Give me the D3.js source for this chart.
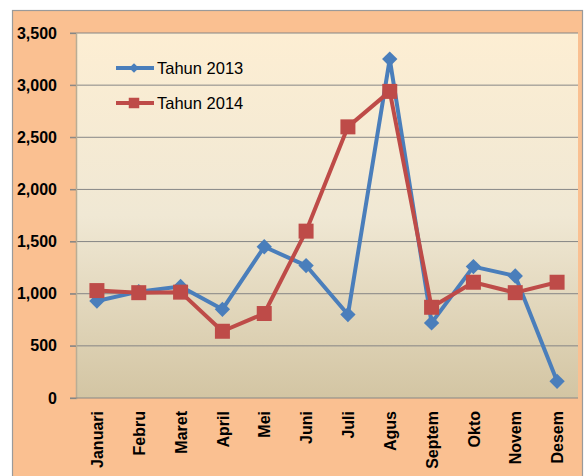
<!DOCTYPE html>
<html>
<head>
<meta charset="utf-8">
<script src="https://cdn.jsdelivr.net/npm/d3@7"></script>
<style>
  body { margin: 0; background: #fff; }
  svg { display: block; }
</style>
</head>
<body>
<svg id="chart"></svg>
<script>
const months = ["Januari", "Febru", "Maret", "April", "Mei", "Juni", "Juli", "Agus", "Septem", "Okto", "Novem", "Desem"];
const tahun2013 = [930, 1020, 1070, 850, 1450, 1270, 800, 3250, 720, 1260, 1170, 160];
const tahun2014 = [1030, 1010, 1015, 640, 810, 1600, 2600, 2940, 870, 1110, 1010, 1110];
const yTicks = [0, 500, 1000, 1500, 2000, 2500, 3000, 3500];
const seriesNames = ["Tahun 2013", "Tahun 2014"];

const width = 585, height = 476;
const margin = {top: 33, right: 7, bottom: 78, left: 76};

const svg = d3.select('#chart')
    .attr('width', width).attr('height', height);

// chart area (orange)
svg.append("rect")
    .attr("x", 12.5).attr("y", 10.5)
    .attr("width", 570).attr("height", 470)
    .attr("fill", "#FAC091")
    .attr("stroke", "#9a9a9a")
    .attr("stroke-width", 1.2);

const grad = svg.append("defs").append("linearGradient")
    .attr("id", "plotbg").attr("x1", 0).attr("y1", 0).attr("x2", 0).attr("y2", 1);
grad.append("stop").attr("offset", "0%").attr("stop-color", "#FDEED3");
grad.append("stop").attr("offset", "50%").attr("stop-color", "#F0E8D4");
grad.append("stop").attr("offset", "100%").attr("stop-color", "#D3C5A3");

const x = d3.scaleBand()
    .domain(months)
    .range([margin.left, width - margin.right]);

const y = d3.scaleLinear()
    .domain([0, 3500])
    .range([height - margin.bottom, margin.top]);

svg.append("rect")
    .attr("x", margin.left).attr("y", margin.top)
    .attr("width", width - margin.right - margin.left)
    .attr("height", height - margin.bottom - margin.top)
    .attr("fill", "url(#plotbg)");

// gridlines
svg.append("g")
    .selectAll("line")
    .data(yTicks.filter(d => d > 0))
    .join("line")
      .attr("x1", margin.left - 6).attr("x2", width - margin.right)
      .attr("y1", d => y(d)).attr("y2", d => y(d))
      .attr("stroke", "#868686").attr("stroke-width", 1);

// y axis
const yAxis = svg.append("g")
    .attr("transform", `translate(${margin.left},0)`)
    .call(d3.axisLeft(y).tickValues(yTicks).tickFormat(d3.format(",")).tickSize(6).tickPadding(13));
yAxis.select(".domain").attr("stroke", "#B9AD95").attr("stroke-width", 1.5);
yAxis.selectAll(".tick line").attr("stroke", "#868686");
yAxis.selectAll("text")
    .attr("font-family", "Liberation Sans, Arial, sans-serif")
    .attr("font-size", 16).attr("font-weight", "bold").attr("fill", "#000");

// x axis
const xAxis = svg.append("g")
    .attr("transform", `translate(0,${height - margin.bottom})`)
    .call(d3.axisBottom(x).tickSize(0).tickPadding(0));
xAxis.select(".domain").remove();
svg.append("line")
    .attr("x1", margin.left - 6).attr("x2", width - margin.right)
    .attr("y1", y(0)).attr("y2", y(0))
    .attr("stroke", "#868686");
xAxis.selectAll("text")
    .attr("font-family", "Liberation Sans, Arial, sans-serif")
    .attr("font-size", 16).attr("font-weight", "bold").attr("fill", "#000")
    .attr("text-anchor", "end")
    .attr("transform", "rotate(-90)")
    .attr("x", -13).attr("y", 0).attr("dy", "0.38em");

const colors = ["#4A7EBB", "#BE4B48"];
const line = d3.line()
    .x((d, i) => x(months[i]) + x.bandwidth() / 2)
    .y(d => y(d));

const diamond = d3.symbol().type(d3.symbolDiamond2).size(150);
const square = d3.symbol().type(d3.symbolSquare).size(225);

[tahun2013, tahun2014].forEach((vals, k) => {
  svg.append("path")
      .datum(vals)
      .attr("fill", "none")
      .attr("stroke", colors[k])
      .attr("stroke-width", 4)
      .attr("stroke-linejoin", "round")
      .attr("d", line);

  svg.append("g")
    .selectAll("path")
    .data(vals)
    .join("path")
      .attr("transform", (d, i) => `translate(${x(months[i]) + x.bandwidth() / 2},${y(d)})`)
      .attr("d", k === 0 ? diamond : square)
      .attr("fill", colors[k]);
});

// legend
const legend = svg.append("g")
    .selectAll("g")
    .data(seriesNames)
    .join("g")
      .attr("transform", (d, i) => `translate(116,${68 + i * 35})`);

legend.append("line")
    .attr("x1", 0).attr("x2", 38)
    .attr("stroke", (d, i) => colors[i])
    .attr("stroke-width", 4);
legend.append("path")
    .attr("transform", "translate(18,0)")
    .attr("d", (d, i) => i === 0 ? d3.symbol().type(d3.symbolDiamond2).size(60)() : d3.symbol().type(d3.symbolSquare).size(110)())
    .attr("fill", (d, i) => colors[i]);
legend.append("text")
    .attr("x", 41).attr("dy", "0.36em")
    .attr("font-family", "Liberation Sans, Arial, sans-serif")
    .attr("font-size", 16.5)
    .attr("fill", "#000")
    .text(d => d);
</script>
</body>
</html>
